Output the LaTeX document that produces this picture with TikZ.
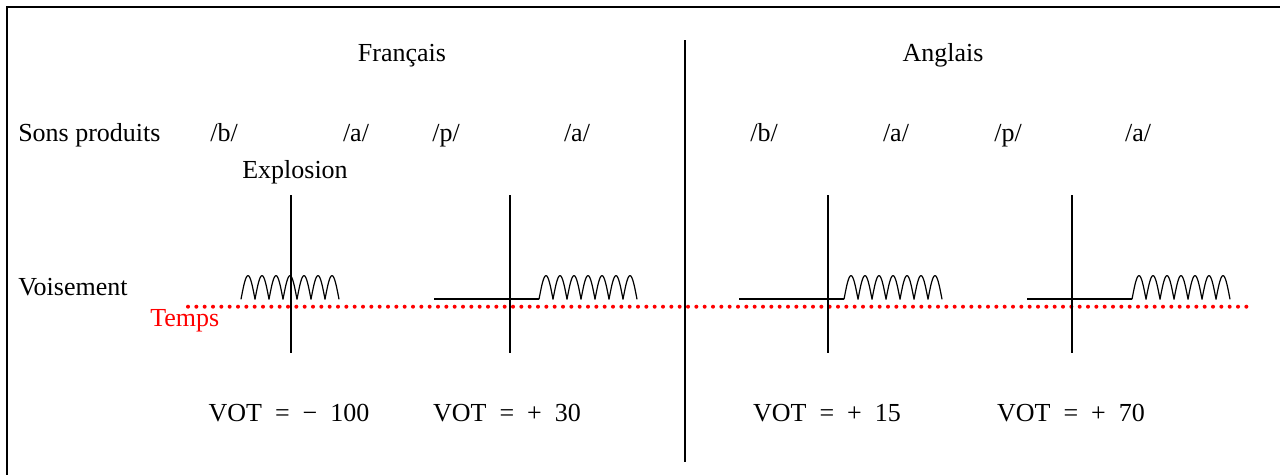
\documentclass[tikz,border=0pt]{standalone}
\usepackage{fontspec}
\setmainfont{Liberation Serif}
\usetikzlibrary{positioning}
\definecolor{ctemps}{HTML}{FF0000}
\tikzset{
  texte/.style={font=\fontsize{19.5}{23}\selectfont,inner sep=0pt,anchor=base},
  textew/.style={texte,anchor=base west},
  textet/.style={textew,text=ctemps},
  cadre/.style={draw=black,line width=2.2pt},
  separe/.style={draw=black,line width=1.6pt},
  explo/.style={draw=black,line width=1.5pt},
  silence/.style={draw=black,line width=1.5pt},
  onde/.style={draw=black,line width=0.9pt,line join=round},
  axetemps/.style={draw=ctemps,line width=3pt,line cap=round,
                   dash pattern=on 0pt off 6.25pt},
}
% arches du voisement : depart x, base y
\newcommand{\ondevoix}[2]{%
  \draw[onde] plot[domain=0:98,samples=197] ({#1+\x},{#2-23.6*abs(sin(12.857*\x))});}
% valeur du VOT : signe, nombre
\newcommand{\valvot}[2]{VOT\hspace{0.5em}=\hspace{0.5em}#1\hspace{0.5em}#2}

\begin{document}
\begin{tikzpicture}[x=0.75pt,y=-0.75pt]
\useasboundingbox (0,0) rectangle (1280,475);

% cadre
\coordinate (cdh) at (1280,7);
\coordinate (cgh) at (7,7);
\coordinate (cgb) at (7,475);
\draw[cadre] (cdh) -- (cgh) -- (cgb);

% separation francais / anglais
\coordinate (sh) at (685,40);
\coordinate (sb) at (685,462);
\draw[separe] (sh) -- (sb);

% titres
\node[texte] (fr) at (402,61) {Français};
\node[texte] (an) at (943,61) {Anglais};

% sons produits
\node[textew] (sons) at (18,141) {Sons produits};
\node[texte] (b1) at (224,141) {/b/};
\node[texte] (a1) at (356,141) {/a/};
\node[texte] (p1) at (446,141) {/p/};
\node[texte] (a2) at (577,141) {/a/};
\node[texte] (b2) at (764,141) {/b/};
\node[texte] (a3) at (896,141) {/a/};
\node[texte] (p2) at (1008,141) {/p/};
\node[texte] (a4) at (1138,141) {/a/};
\node[texte] (expl) at (295,178) {Explosion};

\node[textew] (vois) at (18,295) {Voisement};
\node[textet] (tps) at (150,326) {Temps};

% axe du temps
\coordinate (t0) at (188,306.7);
\coordinate (t1) at (1253,306.7);
\draw[axetemps] (t0) -- (t1);

% explosions
\coordinate (e1h) at (291,195);  \coordinate (e1b) at (291,353);
\coordinate (e2h) at (510,195);  \coordinate (e2b) at (510,353);
\coordinate (e3h) at (828,195);  \coordinate (e3b) at (828,353);
\coordinate (e4h) at (1072,195); \coordinate (e4b) at (1072,353);
\draw[explo] (e1h) -- (e1b);
\draw[explo] (e2h) -- (e2b);
\draw[explo] (e3h) -- (e3b);
\draw[explo] (e4h) -- (e4b);

% silences avant le voisement
\coordinate (s2a) at (434,299.3);  \coordinate (s2b) at (539,299.3);
\coordinate (s3a) at (739,299.3);  \coordinate (s3b) at (844,299.3);
\coordinate (s4a) at (1027,299.3); \coordinate (s4b) at (1132,299.3);
\draw[silence] (s2a) -- (s2b);
\draw[silence] (s3a) -- (s3b);
\draw[silence] (s4a) -- (s4b);

% voisement
\ondevoix{241}{299.3}
\ondevoix{539}{299.3}
\ondevoix{844}{299.3}
\ondevoix{1132}{299.3}

% valeurs du VOT
\node[texte] (vot1) at (289,421) {\valvot{−}{100}};
\node[texte] (vot2) at (507,421) {\valvot{+}{30}};
\node[texte] (vot3) at (827,421) {\valvot{+}{15}};
\node[texte] (vot4) at (1071,421) {\valvot{+}{70}};

\end{tikzpicture}
\end{document}
